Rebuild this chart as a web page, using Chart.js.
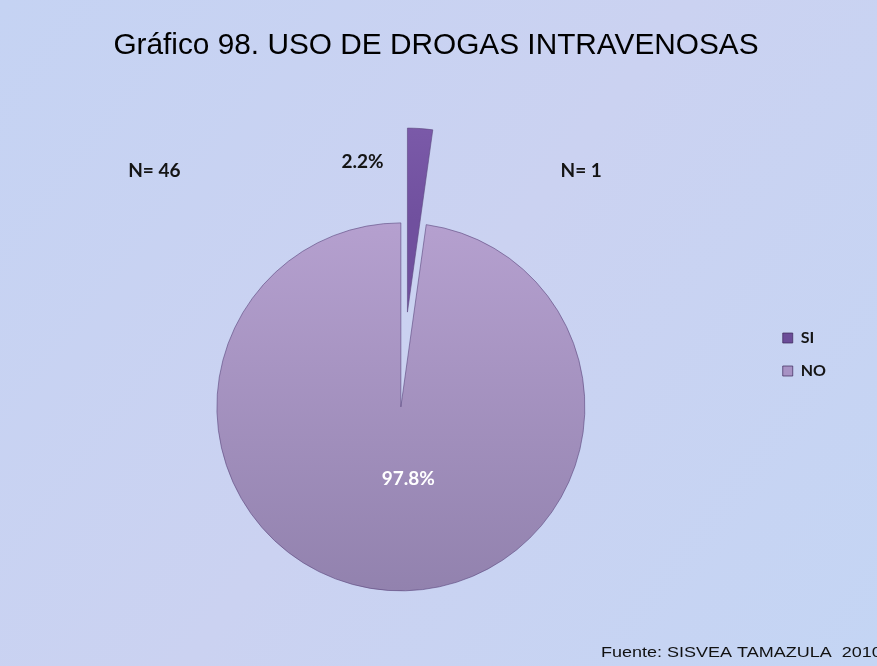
<!DOCTYPE html>
<html>
<head>
<meta charset="utf-8">
<script src="https://cdn.jsdelivr.net/npm/chart.js@4/dist/chart.umd.min.js"></script>
<style>
  html, body { margin: 0; padding: 0; background: #c7d4f2; }
  #wrap { width: 877px; height: 666px; }
</style>
</head>
<body>
<div id="wrap"><canvas id="c" width="877" height="666"></canvas></div>
<script>
// ---- data ----
const categories = ['SI', 'NO'];
const percentValues = [2.2, 97.8];
const percentLabels = ['2.2%', '97.8%'];
const countLabels = ['N= 46', 'N= 1'];   // total sample, SI count
const titleText = 'Gráfico 98. USO DE DROGAS INTRAVENOSAS';
const sourceText = 'Fuente: SISVEA TAMAZULA  2010';

// ---- styles ----
const sliceTop = ['#8664b4', '#b5a0cf'];
const sliceBottom = ['#70509e', '#9282ae'];
const legendColors = ['#6b4c98', '#a792c4'];
const PIE_RADIUS = 184;

function sliceFill(ctx) {
  const chart = ctx.chart;
  const area = chart.chartArea;
  const i = ctx.dataIndex;
  if (!area || i === undefined) return sliceTop[i || 0];
  const cy = (area.top + area.bottom) / 2;
  const y0 = i === 0 ? cy - 1.55 * PIE_RADIUS : cy - PIE_RADIUS;
  const y1 = i === 0 ? cy - 0.5 * PIE_RADIUS : cy + PIE_RADIUS;
  const g = chart.ctx.createLinearGradient(0, y0, 0, y1);
  g.addColorStop(0, sliceTop[i]);
  g.addColorStop(1, sliceBottom[i]);
  return g;
}

const backgroundPlugin = {
  id: 'bg',
  beforeDraw(chart) {
    const c = chart.ctx;
    c.save();
    const g = c.createLinearGradient(0, 0, chart.width, chart.height);
    g.addColorStop(0, '#c5d3f3');
    g.addColorStop(0.5, '#cbd2f1');
    g.addColorStop(1, '#c4d5f4');
    c.fillStyle = g;
    c.fillRect(0, 0, chart.width, chart.height);
    c.restore();
  }
};

// Chart.js enlarges and narrows offset arcs; compensate so an exploded
// slice keeps the pie radius and its true angular size.
const explodeFix = {
  id: 'explodeFix',
  afterDatasetsUpdate(chart) {
    chart.getDatasetMeta(0).data.forEach(arc => {
      const off = (arc.options.offset || 0) / 4;
      if (!off) return;
      const R = arc.outerRadius;
      const ro = off * (1 - Math.sin(Math.min(Math.PI, arc.circumference)));
      arc.outerRadius = R - ro;
      const widen = ro / (Math.PI * R) / 2;
      arc.startAngle -= widen;
      arc.endAngle += widen;
    });
  }
};

const labelPlugin = {
  id: 'labels',
  afterDatasetsDraw(chart) {
    const c = chart.ctx;
    const meta = chart.getDatasetMeta(0);
    const no = meta.data[1];
    const cx = no.x, cy = no.y, R = no.outerRadius;
    c.save();
    c.font = 'bold 19px Lato';
    c.textAlign = 'center';
    c.textBaseline = 'middle';
    // NO percentage inside
    c.fillStyle = '#ffffff';
    c.fillText(percentLabels[1], cx + 0.04 * R, cy + 0.39 * R);
    // SI percentage outside, left of the exploded slice
    const a = -Math.PI / 2 - 0.155;
    c.fillStyle = '#141414';
    c.fillText(percentLabels[0], cx + Math.cos(a) * 1.35 * R, cy + Math.sin(a) * 1.35 * R);
    // N annotations
    c.fillText(countLabels[0], cx - 1.34 * R, cy - 1.28 * R);
    c.fillText(countLabels[1], cx + 0.98 * R, cy - 1.28 * R);
    // source
    c.font = '15px "Liberation Sans"';
    c.textAlign = 'left';
    c.textBaseline = 'alphabetic';
    c.fillStyle = '#111111';
    c.translate(601, 657);
    c.scale(1.2, 1);
    c.fillText(sourceText, 0, 0);
    c.restore();
  }
};

new Chart(document.getElementById('c'), {
  type: 'pie',
  data: {
    labels: categories,
    datasets: [{
      data: percentValues,
      backgroundColor: sliceFill,
      borderColor: 'rgba(90,70,125,0.6)',
      borderWidth: 1,
      offset: [380, 0],
      clip: false
    }]
  },
  options: {
    responsive: false,
    animation: false,
    radius: PIE_RADIUS,
    layout: { padding: { left: 36, right: 41, top: 0, bottom: 0 } },
    plugins: {
      title: {
        display: true,
        text: titleText,
        color: '#000000',
        font: { family: '"Liberation Sans", Arial, sans-serif', size: 29.8, weight: 'normal', lineHeight: 1.2 },
        padding: { top: 28, bottom: 84 }
      },
      legend: {
        display: true,
        position: 'right',
        align: 'start',
        title: { display: true, text: ' ', font: { size: 10, lineHeight: 1 }, padding: { top: 0, bottom: 303 } },
        labels: {
          boxWidth: 10,
          boxHeight: 10,
          padding: 17,
          color: '#151515',
          font: { family: 'Lato', size: 16, weight: 'bold' },
          generateLabels(chart) {
            const items = Chart.overrides.pie.plugins.legend.labels.generateLabels(chart);
            items.forEach((it, i) => {
              it.fillStyle = legendColors[i];
              it.strokeStyle = 'rgba(60,40,90,0.7)';
              it.lineWidth = 1;
            });
            return items;
          }
        }
      },
      tooltip: { enabled: false }
    }
  },
  plugins: [backgroundPlugin, explodeFix, labelPlugin]
});
</script>
</body>
</html>
